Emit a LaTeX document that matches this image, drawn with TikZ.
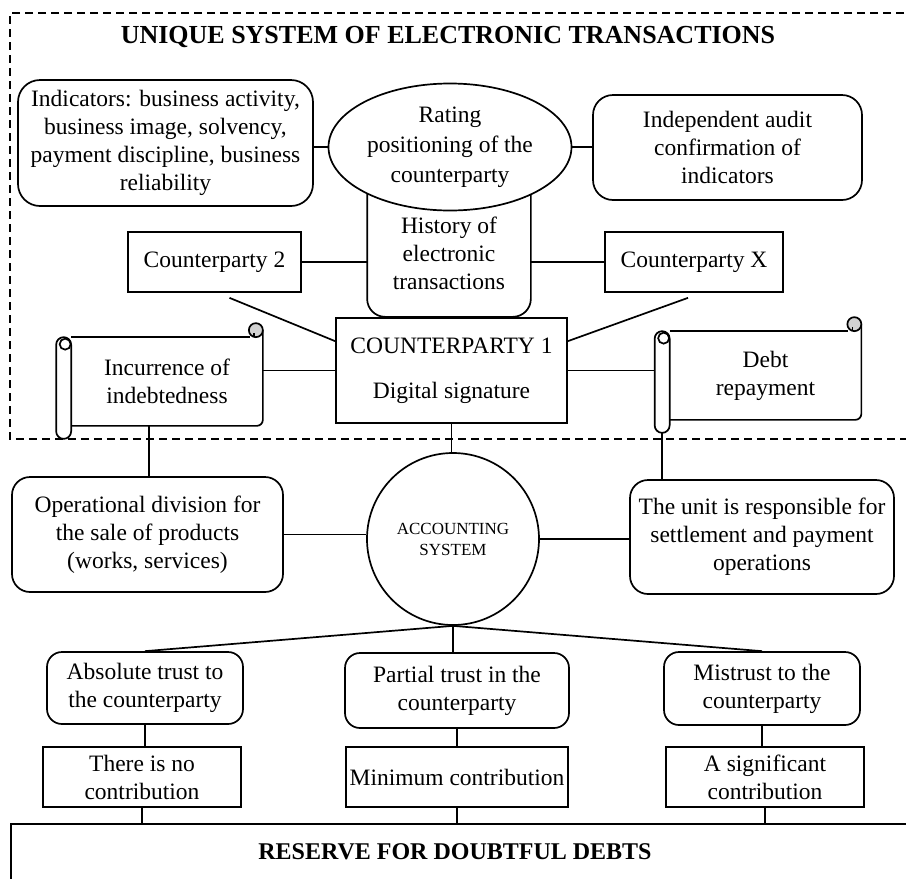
\documentclass[tikz,border=0pt]{standalone}
\usepackage{fontspec}
\setmainfont{Liberation Serif}
\usetikzlibrary{shapes.geometric}

% scroll with a roll on the left and a curl top right
\newcommand{\scrollnode}[4]{%
  \node[scrollbody] (#1) at (#2,#3) {#4};
  \draw[fill=white,rounded corners=7.5pt] ([shift={(-15,0)}]#1.north west) rectangle ([shift={(0,13)}]#1.south west);
  \draw[fill=white] ([shift={(-6,7)}]#1.north west) circle (5.5pt);
  \draw (#1.north west) -- ([shift={(-13,0)}]#1.north east);
  \draw[rounded corners=6pt] ([shift={(0,-7)}]#1.north east) -- (#1.south east) -- (#1.south west);
  \draw[fill=gray!35] ([shift={(-7,-7)}]#1.north east) circle (7pt);
  \draw ([shift={(-9,-4)}]#1.north east) -- ([shift={(-9,0)}]#1.north east);
  \coordinate (#1roll) at ([shift={(-15,0)}]#1.west);
  \coordinate (#1foot) at ([shift={(-7.5,13)}]#1.south west);
}

\begin{document}
\begin{tikzpicture}[x=1pt,y=-1pt,line width=1.7pt,
    font=\fontsize{23.5}{28}\selectfont,
    box/.style={draw,rectangle,align=center,inner sep=0pt},
    rbox/.style={box,rounded corners=15pt},
    scrollbody/.style={align=center,inner sep=0pt,minimum width=190pt,minimum height=87pt},
    heading/.style={font=\bfseries\fontsize{26}{30}\selectfont}]
  \useasboundingbox (0,0) rectangle (906,879);
  \clip (0,0) rectangle (906,879);
  \draw[dash pattern=on 8pt off 5pt] (930,13) -- (10,13) -- (10,439) -- (930,439);

  \node[heading] (title) at (448,37) {UNIQUE SYSTEM OF ELECTRONIC TRANSACTIONS};

  % upper part
  \node[rbox,rounded corners=22pt,minimum width=295pt,minimum height=126pt] (ind) at (165.5,143)
    {Indicators: business activity,\\business image, solvency,\\payment discipline, business\\reliability};
  \node[align=center,inner sep=0pt,minimum width=162pt,minimum height=126pt] (hist) at (449,253)
    {History of\\electronic\\transactions};
  \draw[rounded corners=18pt] (hist.north west) -- (hist.south west) -- (hist.south east) -- (hist.north east);
  \node[ellipse,draw,fill=white,inner sep=0pt,minimum width=243pt,minimum height=127pt,align=center] (rate) at (450,147)
    {Rating\\[2pt]positioning of the\\[2pt]counterparty};
  \node[rbox,rounded corners=20pt,minimum width=269pt,minimum height=105pt] (audit) at (727.5,147.5)
    {Independent audit\\confirmation of\\indicators};
  \node[box,minimum width=173pt,minimum height=60pt] (cp2) at (214.5,262) {Counterparty 2};
  \node[box,minimum width=178pt,minimum height=60pt] (cpx) at (694,262) {Counterparty X};
  \node[box,minimum width=231pt,minimum height=105pt] (cp1) at (451.5,370.5)
    {COUNTERPARTY 1\\[17pt]Digital signature};
  \scrollnode{incur}{167}{381.5}{Incurrence of\\indebtedness}
  \scrollnode{debt}{765.5}{375.5}{Debt\\repayment}

  \draw (rate.west) -- (rate.west -| ind.east);
  \draw (rate.east) -- (rate.east -| audit.west);
  \draw (cp2.east) -- (cp2.east -| hist.west);
  \draw (cpx.west) -- (cpx.west -| hist.east);
  \draw ([shift={(15,5)}]cp2.south) -- ([shift={(0,24)}]cp1.north west);
  \draw ([shift={(-6,5)}]cpx.south) -- ([shift={(0,24)}]cp1.north east);
  \draw (cp1.west) -- (cp1.west -| incur.east);
  \draw (cp1.east) -- (cp1.east -| debtroll);

  % accounting level
  \node[rbox,rounded corners=18pt,minimum width=271pt,minimum height=115pt] (op) at (147.5,534.5)
    {Operational division for\\the sale of products\\(works, services)};
  \node[circle,draw,inner sep=0pt,minimum size=172pt,align=center,font=\fontsize{17}{21}\selectfont] (acc) at (453,539)
    {ACCOUNTING\\SYSTEM};
  \node[rbox,rounded corners=18pt,minimum width=264pt,minimum height=114pt] (unit) at (762,537)
    {The unit is responsible for\\settlement and payment\\operations};
  \coordinate (incurfoot) at ([shift={(-18,0)}]incur.south);
  \draw (incurfoot) -- (incurfoot |- op.north);
  \draw (debtfoot) -- (debtfoot |- unit.north);
  \draw (cp1.south) -- (cp1.south |- acc.north);
  \draw (op.east) -- (op.east -| acc.west);
  \draw (acc.east) -- (acc.east -| unit.west);

  % trust and contributions
  \node[rbox,minimum width=196pt,minimum height=72pt] (abs) at (145,688) {Absolute trust to\\the counterparty};
  \node[rbox,minimum width=224pt,minimum height=75pt] (part) at (457,690.5) {Partial trust in the\\counterparty};
  \node[rbox,minimum width=196pt,minimum height=73pt] (mis) at (762,688.5) {Mistrust to the\\counterparty};
  \node[box,minimum width=198pt,minimum height=60pt] (nocon) at (142,777) {There is no\\contribution};
  \node[box,minimum width=222pt,minimum height=60pt] (mincon) at (457,777) {Minimum contribution};
  \node[box,minimum width=198pt,minimum height=60pt] (sig) at (765,777) {A significant\\contribution};
  \node[heading,font=\bfseries\fontsize{24}{28}\selectfont,minimum width=886pt,minimum height=54pt] (res) at (455,852)
    {RESERVE FOR DOUBTFUL DEBTS};
  \draw ([yshift=-20pt]res.south west) -- (res.north west) -- ([xshift=30pt]res.north east);

  \draw (acc.south) -- (abs.north);
  \draw (acc.south) -- (acc.south |- part.north);
  \draw (acc.south) -- (mis.north);
  \draw (abs.south) -- (abs.south |- nocon.north);
  \draw (part.south) -- (mincon.north);
  \draw (mis.south) -- (mis.south |- sig.north);
  \draw (nocon.south) -- (nocon.south |- res.north);
  \draw (mincon.south) -- (mincon.south |- res.north);
  \draw (sig.south) -- (sig.south |- res.north);
\end{tikzpicture}
\end{document}
